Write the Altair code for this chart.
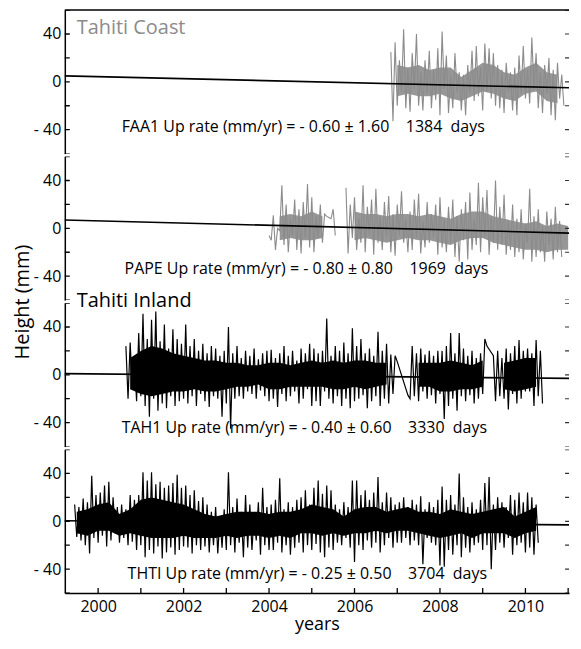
import altair as alt
import pandas as pd

# ---------------- data ----------------
X_DOMAIN = [1999.22, 2011.02]
Y_DOMAIN = [-60, 60]
STEP = 0.1        # years between successive high/low readings
CORE_STEP = 0.25  # years between readings of the dense core band

YEAR_LABELS = [2000, 2002, 2004, 2006, 2008, 2010]
YEAR_TICKS = [2000, 2001, 2002, 2003, 2004, 2005, 2006, 2007, 2008, 2009, 2010, 2011]
HEIGHT_LABELS = [-40, 0, 40]
HEIGHT_TICKS = [-60, -40, -20, 0, 20, 40, 60]

# FAA1 (Tahiti coast) – alternating high / low readings, mm
FAA1_START = 2006.85
FAA1_HI = [25, 33, 18, 44, 12, 24, 40, 8, 18, 26,
           10, 28, 42, 22, 6, 24, 8, 6, 14, 26,
           30, 12, 32, 28, 24, 14, 10, 16, 8, 12,
           22, 30, 10, 37, 24, 8, 14, 20, 10, 16,
           6]
FAA1_LO = [-33, -20, -8, -22, -25, -6, -20, -24, -10, -22,
           -15, -28, -6, -26, -22, -8, -24, -28, -10, -16,
           -12, -24, -8, -14, -20, -22, -26, -8, -24, -28,
           -10, -14, -18, -6, -22, -26, -10, -28, -32, -14,
           -20]
FAA1_CORE_START = 2007.0
FAA1_CORE_HI = [14, 12, 14, 10, 12, 12, 4, 10, 16, 14, 8, 6, 12, 16, 8, 6]
FAA1_CORE_LO = [-12, -10, -12, -12, -10, -14, -16, -12, -8, -10, -14, -16, -10, -8, -16, -18]

# PAPE (Tahiti coast) – two pieces separated by a data gap
PAPE_A_START = 2004.0
PAPE_A_HI = [-6, 11, 0, 36, 20, 8, 24, 16, 22, 37, 26, 10, 20, 12, 9, 16]
PAPE_A_LO = [-10, -18, -2, -14, -20, -6, -18, -21, -8, -16, -20, -8, -12, 10, 8, -6]
PAPE_B_START = 2005.8
PAPE_B_HI = [34, 20, 26, 8, 36, 18, 24, 33, 10, 22,
             27, 12, 20, 31, 8, 14, 24, 29, 6, 22,
             12, 20, 26, 8, 18, 24, 10, 16, 22, 30,
             8, 38, 26, 32, 10, 40, 18, 28, 6, 20,
             8, 16, 4, 33, 10, 16, 2, 14, 8, 18,
             6]
PAPE_B_LO = [-21, -8, -18, -12, -20, -6, -22, -12, -18, -8,
             -20, -23, -6, -12, -20, -18, -8, -21, -16, -12,
             -8, -22, -16, -20, -12, -24, -28, -10, -26, -18,
             -14, -20, -8, -22, -12, -18, -14, -22, -18, -24,
             -20, -26, -12, -28, -24, -20, -28, -14, -26, -20,
             -24]
PAPE_CORE_START = 2004.25
PAPE_CORE_HI = [10, 12, 10, 14, 10, None, None,
                14, 12, 12, 10, 12, 12, 10, 12, 10, 8, 12, 14, 14, 10, 8, 6, 4, 6, 2, 4, 2]
PAPE_CORE_LO = [-10, -8, -10, -10, -8, None, None,
                -10, -8, -10, -12, -10, -8, -10, -10, -12, -14, -10, -8, -8, -12, -14, -16, -18, -18, -20, -18, -18]

# TAH1 (Tahiti inland); None = no reading (gap bridged by the line)
TAH1_START = 2000.65
TAH1_HI = [24, 27, 14, 35,
           51, 30, 46, 53, 28, 42, 22, 38, 30, 26,
           42, 24, 30, 20, 26, 18, 24, 22, 16, 20,
           40, 18, 24, 14, 20, 16, 22, 13, 18, 20,
           21, 14, 18, 24, 16, 20, 12, 22, 18, 26,
           22, 18, 20, 47, 16, 24, 20, 27, 18, 39,
           24, 30, 18, 22, 16, 36, 20, 26, 17, 16,
           None, None, -17, 24, 18, 22, 17, 20, 16, 20,
           20, 24, 35, 18, 35, 22, 16, 20, 14, 18,
           30, None, 16, 20, 14, 22, 18, 24, 29, 20,
           22, 18, 29, 20]
TAH1_LO = [-20, -12, -22, -18,
           -26, -35, -20, -30, -24, -28, -18, -26, -22, -20,
           -24, -18, -26, -16, -22, -27, -18, -20, -35, -24,
           -45, -20, -18, -20, -14, -16, -20, -13, -18, -22,
           -20, -27, -16, -22, -18, -14, -24, -20, -12, -26,
           -22, -26, -14, -20, -24, -18, -26, -20, -28, -22,
           -20, -17, -28, -22, -18, -26, -20, -24, -16, 11,
           None, None, -20, -18, -22, -14, -20, -17, -24, -16,
           -37, -26, -20, -30, -18, -22, -17, -24, -20, -16,
           24, None, -22, -18, -20, -29, -16, -24, -20, -14,
           -14, -26, -18, -24]
TAH1_CORE_START = 2000.75
TAH1_CORE_HI = [14, 20, 24, 22, 18, 16, 14, 12, 12, 10, 10, 8, 8, 10, 10, 8, 10, 12, 10, 12,
                10, 12, 12, 10, 10, None, None, 10, 10, 10, 12, 10, 8, 12, None, 10, 12, 14, 14]
TAH1_CORE_LO = [-12, -16, -18, -16, -14, -14, -12, -14, -14, -12, -10, -10, -8, -12, -12, -10,
                -10, -10, -10, -12, -12, -10, -12, -10, -8, None, None, -10, -10, -14, -14, -12,
                -12, -10, None, -12, -14, -12, -10]

# THTI (Tahiti inland)
THTI_START = 1999.45
THTI_HI = [14, 12, 19, 16, 38, 22,
           24, 30, 33, 20, 12, 14, 10, 22, 18, 22,
           41, 34, 41, 31, 33, 28, 30, 32, 39, 28,
           30, 22, 26, 17, 20, 14, 8, 12, 3, 10,
           41, 12, 19, 8, 22, 14, 6, 16, 28, 12,
           14, 18, 36, 10, 16, 12, 18, 20, 26, 14,
           28, 34, 23, 30, 26, 14, 10, 16, 12, 34,
           34, 22, 26, 18, 24, 37, 16, 24, 20, 14,
           16, 20, 12, 18, 14, 21, 10, 16, 12, 18,
           29, 18, 22, 14, 40, 20, 12, 16, 10, 18,
           32, 37, 14, 20, 16, 12, 22, 18, 24, 16,
           24, 20, 14]
THTI_LO = [-13, -16, -20, -27, -14, -18,
           -12, -21, -16, -10, -18, -14, -20, -17, -24, -20,
           -30, -24, -27, -21, -31, -26, -22, -28, -24, -21,
           -22, -27, -20, -24, -21, -26, -20, -27, -22, -24,
           -20, -26, -18, -30, -22, -24, -16, -28, -20, -24,
           -24, -18, -26, -20, -28, -22, -18, -26, -20, -24,
           -19, -26, -30, -22, -24, -18, -20, -14, -22, -34,
           -20, -24, -16, -22, -18, -26, -20, -14, -22, -18,
           -18, -14, -20, -16, -20, -36, -14, -18, -20, -37,
           -38, -24, -28, -20, -30, -22, -26, -20, -18, -24,
           -20, -40, -24, -18, -22, -14, -28, -20, -18, -26,
           -22, -28, -18]
THTI_CORE_START = 1999.5
THTI_CORE_HI = [8, 10, 14, 16, 6, 10, 18, 20, 18, 16, 14, 10, 6, 4, 6, 8, 8, 8, 6, 8, 8, 10,
                14, 12, 10, 4, 10, 12, 12, 8, 10, 12, 8, 8, 6, 10, 8, 6, 8, 10, 12, 4, 8, 12]
THTI_CORE_LO = [-10, -12, -8, -8, -12, -10, -12, -14, -14, -14, -12, -14, -14, -14, -12, -14,
                -12, -12, -14, -12, -14, -10, -10, -12, -10, -12, -10, -10, -8, -10, -8, -8,
                -10, -12, -14, -12, -10, -14, -10, -10, -10, -14, -10, -8]

# linear trends (value at left and right edge of the plot), mm
FAA1_TREND = [5, -5]
PAPE_TREND = [7, -4]
TAH1_TREND = [1, -3]
THTI_TREND = [0.5, -3]

NOTES = [
    "FAA1 Up rate (mm/yr) = - 0.60 \u00b1 1.60\u00a0\u00a0\u00a0 1384\u00a0 days",
    "PAPE Up rate (mm/yr) = - 0.80 \u00b1 0.80\u00a0\u00a0\u00a0 1969\u00a0 days",
    "TAH1 Up rate (mm/yr) = - 0.40 \u00b1 0.60\u00a0\u00a0\u00a0 3330\u00a0 days",
    "THTI Up rate (mm/yr) = - 0.25 \u00b1 0.50\u00a0\u00a0\u00a0 3704\u00a0 days",
]
NOTE_T = [2000.55, 2000.62, 2000.55, 2000.69]
NOTE_V = [-42, -38, -49, -48]

GROUP_LABELS = ["Tahiti Coast", "Tahiti Inland"]
GROUP_LABEL_T = [1999.50, 1999.50]
GROUP_LABEL_V = [40, 57]

# ---------------- styling ----------------
FONT = "Open Sans"
W, H = 506, 144
GRAY = "#8b8b8b"
GRAY_CORE = "#979797"

xs = alt.Scale(domain=X_DOMAIN, nice=False, zero=False)
ys = alt.Scale(domain=Y_DOMAIN, nice=False, zero=False)
LABEL_EXPR = "datum.value < 0 ? '- ' + abs(datum.value) : datum.label"


def zigzag(start, hi, lo, seg):
    rows = []
    for i, (h, l) in enumerate(zip(hi, lo)):
        t = start + i * STEP
        if h is not None:
            rows.append({"t": t, "v": h, "seg": seg})
        if l is not None:
            rows.append({"t": t + STEP / 2, "v": l, "seg": seg})
    return rows


def band(start, hi, lo):
    rows, seg, prev_none = [], 0, False
    for i, (h, l) in enumerate(zip(hi, lo)):
        if h is None or l is None:
            prev_none = True
            continue
        if prev_none and rows:
            seg += 1
        prev_none = False
        rows.append({"t": start + i * CORE_STEP, "v": h, "v2": l, "seg": seg})
    return rows


def panel(idx, rows, core_rows, color, core_color, line_w, trend, label=None, label_color="black"):
    bottom = idx == 3
    if bottom:
        xaxis = alt.Axis(values=YEAR_LABELS, format="d", ticks=False, domain=True,
                         domainColor="black", domainWidth=1.5, grid=False,
                         labelFont=FONT, labelFontSize=16, labelColor="black",
                         labelPadding=6, labelFlush=False,
                         title="years", titleFont=FONT, titleFontSize=18,
                         titleFontWeight="normal", titleColor="black", titlePadding=1)
    else:
        xaxis = None
    ykw = dict(values=HEIGHT_LABELS, ticks=False, domain=True, domainColor="black",
               domainWidth=1.5, grid=False, labelFont=FONT, labelFontSize=16,
               labelColor="black", labelPadding=4, labelExpr=LABEL_EXPR)
    if idx == 1:
        yaxis = alt.Axis(title="Height (mm)", titleFont=FONT, titleFontSize=20,
                         titleFontWeight="normal", titleColor="black", titleAngle=270,
                         titleX=-42, titleY=H + 1.5, titleAlign="center",
                         titleBaseline="middle", **ykw)
    else:
        yaxis = alt.Axis(title=None, **ykw)
    X = alt.X("t:Q", scale=xs, axis=xaxis)
    Y = alt.Y("v:Q", scale=ys, axis=yaxis)

    layers = []
    layers.append(alt.Chart(pd.DataFrame(core_rows)).mark_area(color=core_color, opacity=1)
                  .encode(x=X, y=Y, y2="v2:Q", detail="seg:N"))
    layers.append(alt.Chart(pd.DataFrame(rows)).mark_line(color=color, strokeWidth=line_w)
                  .encode(x=X, y=Y, detail="seg:N"))
    layers.append(alt.Chart(pd.DataFrame({"t": X_DOMAIN, "v": trend}))
                  .mark_line(color="black", strokeWidth=1.6).encode(x=X, y=Y))
    lt = pd.DataFrame({"t": [X_DOMAIN[0]] * len(HEIGHT_TICKS), "v": HEIGHT_TICKS})
    layers.append(alt.Chart(lt).mark_tick(orient="horizontal", size=10, thickness=1.3,
                                          color="black", clip=True, opacity=1)
                  .encode(x=X, y=Y))
    rt = pd.DataFrame({"t": [X_DOMAIN[1]] * len(HEIGHT_TICKS), "v": HEIGHT_TICKS})
    layers.append(alt.Chart(rt).mark_tick(orient="horizontal", size=8, thickness=1.2,
                                          color="#333333", clip=True, opacity=1)
                  .encode(x=X, y=Y))
    if bottom:
        bt = pd.DataFrame({"t": YEAR_TICKS, "v": [Y_DOMAIN[0]] * len(YEAR_TICKS)})
        layers.append(alt.Chart(bt).mark_tick(orient="vertical", size=10, thickness=1.3,
                                              color="black", clip=True, opacity=1)
                      .encode(x=X, y=Y))
    if idx == 0:
        tb = pd.DataFrame({"t": [X_DOMAIN[0]], "t2": [X_DOMAIN[1]], "v": [Y_DOMAIN[1]]})
        layers.append(alt.Chart(tb).mark_rule(color="black", strokeWidth=1.5)
                      .encode(x=X, x2="t2:Q", y=Y))
    nd = pd.DataFrame({"t": [NOTE_T[idx]], "v": [NOTE_V[idx]], "txt": [NOTES[idx]]})
    layers.append(alt.Chart(nd).mark_text(align="left", baseline="alphabetic", font=FONT,
                                          fontSize=16, color="black")
                  .encode(x=X, y=Y, text="txt:N"))
    if label is not None:
        k = GROUP_LABELS.index(label)
        ld = pd.DataFrame({"t": [GROUP_LABEL_T[k]], "v": [GROUP_LABEL_V[k]], "txt": [label]})
        layers.append(alt.Chart(ld).mark_text(align="left", baseline="alphabetic", font=FONT,
                                              fontSize=20, color=label_color)
                      .encode(x=X, y=Y, text="txt:N"))
    return alt.layer(*layers).properties(width=W, height=H)


faa1 = zigzag(FAA1_START, FAA1_HI, FAA1_LO, 0)
pape = zigzag(PAPE_A_START, PAPE_A_HI, PAPE_A_LO, 0) + zigzag(PAPE_B_START, PAPE_B_HI, PAPE_B_LO, 1)
tah1 = zigzag(TAH1_START, TAH1_HI, TAH1_LO, 0)
thti = zigzag(THTI_START, THTI_HI, THTI_LO, 0)

p0 = panel(0, faa1, band(FAA1_CORE_START, FAA1_CORE_HI, FAA1_CORE_LO), GRAY, GRAY_CORE, 1.1,
           FAA1_TREND, label="Tahiti Coast", label_color=GRAY)
p1 = panel(1, pape, band(PAPE_CORE_START, PAPE_CORE_HI, PAPE_CORE_LO), GRAY, GRAY_CORE, 1.1,
           PAPE_TREND)
p2 = panel(2, tah1, band(TAH1_CORE_START, TAH1_CORE_HI, TAH1_CORE_LO), "black", "black", 1.2,
           TAH1_TREND, label="Tahiti Inland", label_color="black")
p3 = panel(3, thti, band(THTI_CORE_START, THTI_CORE_HI, THTI_CORE_LO), "black", "black", 1.2,
           THTI_TREND)

chart = (alt.vconcat(p0, p1, p2, p3, spacing=3, bounds="flush")
         .properties(padding={"left": 5, "top": 0, "right": 0, "bottom": 0})
         .configure_view(stroke=None))

chart.save("out.html", embed_options={"renderer": "svg", "actions": False})
